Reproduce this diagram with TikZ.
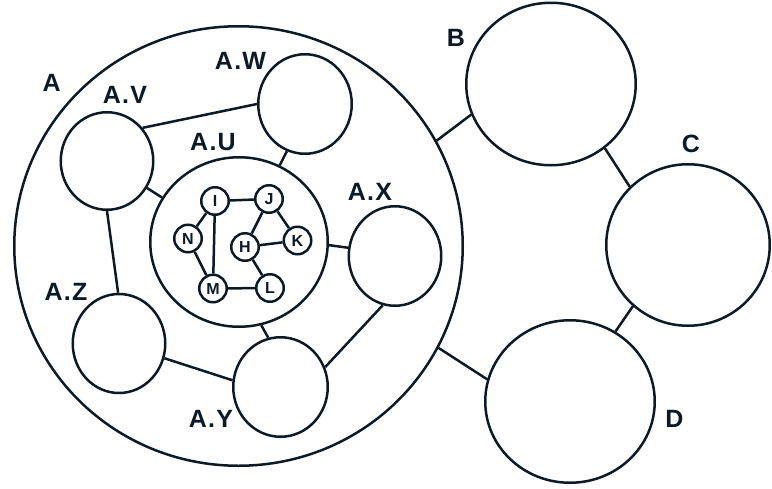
\documentclass[tikz,border=0pt]{standalone}
\usepackage{fontspec}
\setmainfont{Liberation Sans}
\newfontfamily\tagfont[LetterSpace=5]{Liberation Sans}
\usetikzlibrary{shapes.geometric}
\definecolor{ink}{RGB}{12,26,38}
\begin{document}
\begin{tikzpicture}[x=1pt,y=-1pt,color=ink,line width=2.5pt,
  blob/.style={ellipse,draw,inner sep=0pt},
  dot/.style={circle,draw,minimum size=27.5pt,inner sep=0pt,
    font=\fontsize{16}{18}\selectfont\bfseries},
  tag/.style={inner sep=0pt,font=\tagfont\fontsize{25}{29}\selectfont\bfseries}]
\useasboundingbox (0,0) rectangle (772,488);

% outer groups
\node[blob,minimum width=448.5pt,minimum height=439.5pt] (A) at (238.5,246) {};
\node[blob,minimum width=169.5pt,minimum height=162.5pt] (B) at (551,84) {};
\node[blob,minimum width=163.5pt,minimum height=161.5pt] (C) at (688,245) {};
\node[blob,minimum width=169.5pt,minimum height=162.5pt] (D) at (570,401.5) {};

% members of A
\node[blob,minimum width=93.5pt,minimum height=99.5pt] (AW) at (305,104) {};
\node[blob,minimum width=92.5pt,minimum height=97.5pt] (AV) at (107,161) {};
\node[blob,minimum width=177.5pt,minimum height=169.5pt] (AU) at (239,242) {};
\node[blob,minimum width=92.5pt,minimum height=99.5pt] (AX) at (395,256) {};
\node[blob,minimum width=92.5pt,minimum height=99pt] (AZ) at (119,343.5) {};
\node[blob,minimum width=94.5pt,minimum height=99.5pt] (AY) at (280.5,387) {};

% members of A.U
\node[dot] (I) at (215,201) {I};
\node[dot] (J) at (269,199) {J};
\node[dot] (N) at (188,238.5) {N};
\node[dot] (H) at (245,247) {H};
\node[dot] (K) at (297.5,240.5) {K};
\node[dot] (M) at (213,288.5) {M};
\node[dot] (L) at (270,288) {L};

% labels
\node[tag] (tA) at (51.7,83.3) {A};
\node[tag] (tAV) at (125,95) {A.V};
\node[tag] (tAW) at (240.5,60.5) {A.W};
\node[tag] (tAU) at (213,142.5) {A.U};
\node[tag] (tAX) at (370,191.5) {A.X};
\node[tag] (tAZ) at (66,292) {A.Z};
\node[tag] (tAY) at (211,419) {A.Y};
\node[tag] (tB) at (456,38) {B};
\node[tag] (tC) at (691,144) {C};
\node[tag] (tD) at (674.5,419) {D};

% links inside A
\draw (AV.43) -- (AW.180);
\draw (AV.-34) -- (AU.150);
\draw (AW.-111) -- (AU.62);
\draw (AV.-90) -- (AZ.91);
\draw (AU.-2) -- (AX.170);
\draw (AU.-75) -- (AY.104);
\draw (AZ.-18) -- (AY.172);
\draw (AX.-104) -- (AY.24);

% links between groups
\draw (A.28) -- (B.201);
\draw (B.-50) -- (C.135);
\draw (C.-132) -- (D.57);
\draw (A.-27) -- (D.165);

% links inside A.U
\draw (I) -- (J);
\draw (I) -- (N);
\draw (I) -- (M);
\draw (N) -- (M);
\draw (M) -- (L);
\draw (L) -- (H);
\draw (H) -- (K);
\draw (H) -- (J);
\draw (J) -- (K);
\end{tikzpicture}
\end{document}
